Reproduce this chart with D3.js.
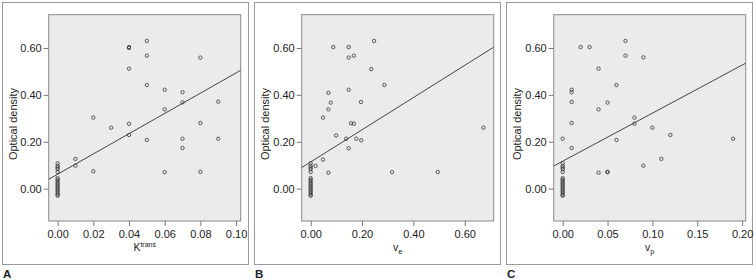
<!DOCTYPE html>
<html><head><meta charset="utf-8">
<script src="https://cdn.jsdelivr.net/npm/d3@7/dist/d3.min.js"></script>
<style>
html,body{margin:0;padding:0;background:#fff;}
svg text{font-family:"Liberation Sans",Arial,sans-serif;fill:#222;}
</style></head>
<body><svg id="c" width="756" height="280"></svg>
<script>
// ---- data ----
const panelLetters = ["A", "B", "C"];
const yTicks = [0, 0.2, 0.4, 0.6];
const xTicksA = [0, 0.02, 0.04, 0.06, 0.08, 0.10];
const xTicksB = [0, 0.2, 0.4, 0.6];
const xTicksC = [0, 0.05, 0.10, 0.15, 0.20];
// optical density values of the cases with parameter = 0
const zeroCluster = [0.108, 0.097, 0.090, 0.083, 0.071, 0.045, 0.038, 0.031, 0.024, 0.017, 0.010, 0.003, -0.004, -0.011, -0.018, -0.026, -0.030];
const ktransPts = [[0.04,0.604],[0.04,0.600],[0.05,0.630],[0.05,0.567],[0.04,0.512],[0.08,0.559],[0.05,0.442],[0.06,0.422],[0.07,0.411],[0.07,0.368],[0.09,0.371],[0.06,0.338],[0.02,0.303],[0.03,0.260],[0.04,0.277],[0.08,0.280],[0.04,0.229],[0.05,0.208],[0.07,0.213],[0.09,0.213],[0.07,0.173],[0.01,0.127],[0.01,0.098],[0.02,0.074],[0.06,0.070],[0.08,0.072]];
const vePts = [[0.088,0.604],[0.148,0.604],[0.247,0.630],[0.148,0.559],[0.168,0.567],[0.236,0.510],[0.287,0.442],[0.148,0.422],[0.069,0.409],[0.078,0.367],[0.196,0.370],[0.069,0.338],[0.048,0.303],[0.157,0.279],[0.168,0.277],[0.673,0.260],[0.099,0.227],[0.138,0.213],[0.178,0.213],[0.197,0.206],[0.148,0.172],[0.048,0.124],[0.019,0.097],[0.069,0.068],[0.317,0.070],[0.495,0.071]];
const vpPts = [[0.02,0.604],[0.03,0.604],[0.07,0.630],[0.07,0.567],[0.09,0.560],[0.04,0.512],[0.06,0.442],[0.01,0.422],[0.01,0.411],[0.01,0.370],[0.05,0.367],[0.04,0.338],[0.01,0.280],[0.08,0.303],[0.08,0.277],[0.10,0.260],[0.12,0.229],[0.19,0.213],[0.00,0.213],[0.06,0.208],[0.01,0.173],[0.11,0.127],[0.09,0.098],[0.04,0.068],[0.05,0.072],[0.05,0.070]];
// linear fit [intercept, slope]
const fitA = [0.0616, 4.32];
const fitB = [0.1137, 0.687];
const fitC = [0.117, 2.05];
const xDomains = [[-0.005, 0.1026], [-0.035, 0.713], [-0.010, 0.204]];
const yDomain = [-0.138, 0.742];

const panels = [
  {pts: ktransPts, ticks: xTicksA, fmt: ".2f", fit: fitA, lab: ["K", "trans", "sup"]},
  {pts: vePts, ticks: xTicksB, fmt: ".2f", fit: fitB, lab: ["v", "e", "sub"]},
  {pts: vpPts, ticks: xTicksC, fmt: ".2f", fit: fitC, lab: ["v", "p", "sub"]}
];

const svg = d3.select("#c");
const plotLeft = [48.7, 301.7, 553.7];
const plotW = 192, plotTop = 14.7, plotBot = 221;

panels.forEach((p, i) => {
  const fx = 2.5 + 252 * i;
  svg.append("rect").attr("x", fx).attr("y", 2.5).attr("width", 246).attr("height", 262)
    .attr("fill", "#fff").attr("stroke", "#9a9a9a").attr("stroke-width", 1);
  const x = d3.scaleLinear().domain(xDomains[i]).range([plotLeft[i], plotLeft[i] + plotW]);
  const y = d3.scaleLinear().domain(yDomain).range([plotBot, plotTop]);
  const g = svg.append("g");
  g.append("rect").attr("x", plotLeft[i]).attr("y", plotTop).attr("width", plotW).attr("height", plotBot - plotTop)
    .attr("fill", "#ebebeb").attr("stroke", "#8a8a8a").attr("stroke-width", 1);
  const clipId = "clip" + i;
  svg.append("clipPath").attr("id", clipId).append("rect")
    .attr("x", plotLeft[i]).attr("y", plotTop).attr("width", plotW).attr("height", plotBot - plotTop);

  const xa = g.append("g").attr("transform", `translate(0,${plotBot})`)
    .call(d3.axisBottom(x).tickValues(p.ticks).tickFormat(d3.format(p.fmt)).tickSize(5).tickPadding(4));
  const ya = g.append("g").attr("transform", `translate(${plotLeft[i]},0)`)
    .call(d3.axisLeft(y).tickValues(yTicks).tickFormat(d3.format(".2f")).tickSize(5).tickPadding(2));
  [xa, ya].forEach(a => {
    a.select(".domain").remove();
    a.selectAll(".tick line").attr("stroke", "#777");
    a.selectAll(".tick text").attr("font-size", 11).attr("fill", "#222")
      .style("font-family", "'Liberation Sans',Arial,sans-serif");
  });

  // fit line
  const [b0, b1] = p.fit;
  const xd = xDomains[i];
  g.append("line").attr("clip-path", `url(#${clipId})`)
    .attr("x1", x(xd[0])).attr("y1", y(b0 + b1 * xd[0]))
    .attr("x2", x(xd[1])).attr("y2", y(b0 + b1 * xd[1]))
    .attr("stroke", "#444").attr("stroke-width", 1);

  const all = p.pts.concat(zeroCluster.map(v => [0, v]));
  g.selectAll("circle.pt").data(all).enter().append("circle")
    .attr("cx", d => x(d[0])).attr("cy", d => y(d[1])).attr("r", 1.7)
    .attr("fill", "none").attr("stroke", "#333").attr("stroke-width", 0.8);

  // axis labels
  const cx = plotLeft[i] + plotW / 2;
  const t = g.append("text").attr("x", cx).attr("y", 251).attr("text-anchor", "middle").attr("font-size", 10.5);
  t.append("tspan").text(p.lab[0]);
  if (p.lab[2] === "sup") t.append("tspan").attr("font-size", 7).attr("dy", -4).text(p.lab[1]);
  else t.append("tspan").attr("font-size", 7.5).attr("dy", 2.5).text(p.lab[1]);

  g.append("text").attr("transform", `translate(${fx + 14.5},${124}) rotate(-90)`)
    .attr("text-anchor", "middle").attr("font-size", 11).text("Optical density");

  svg.append("text").attr("x", fx + 0.5).attr("y", 278).attr("font-size", 11.5).attr("font-weight", "bold")
    .text(panelLetters[i]);
});
</script></body></html>
